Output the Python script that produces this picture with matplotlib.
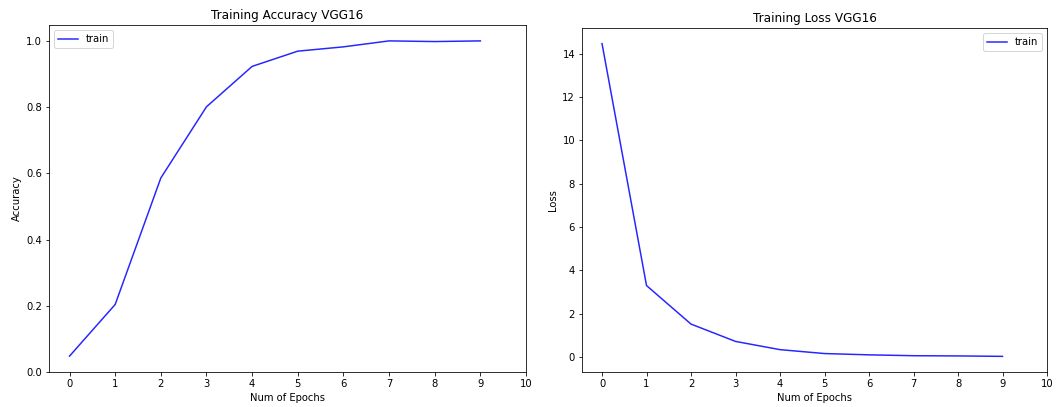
import numpy as np
import matplotlib
matplotlib.use('Agg')
import matplotlib.pyplot as plt

# Data
epochs = np.arange(10)
train_acc = [0.048, 0.204, 0.586, 0.801, 0.923, 0.969, 0.982, 1.0, 0.998, 1.0]
train_loss = [14.47, 3.30, 1.52, 0.72, 0.34, 0.16, 0.10, 0.06, 0.05, 0.03]

fig = plt.figure(figsize=(1057 / 72, 407 / 72), dpi=72)

# Accuracy
ax1 = fig.add_axes([49 / 1057, 1 - 372 / 407, (526 - 49) / 1057, (372 - 25) / 407])
ax1.plot(epochs, train_acc, color='blue', alpha=0.85, label='train')
ax1.set_title('Training Accuracy VGG16')
ax1.set_xlabel('Num of Epochs')
ax1.set_ylabel('Accuracy')
ax1.set_xticks(range(11))
ax1.set_xlim(-0.45, 10)
ax1.set_ylim(0, 1.048)
ax1.legend(loc='upper left')

# Loss
ax2 = fig.add_axes([582 / 1057, 1 - 372 / 407, (1047 - 582) / 1057, (372 - 28) / 407])
ax2.plot(epochs, train_loss, color='blue', alpha=0.85, label='train')
ax2.set_title('Training Loss VGG16')
ax2.set_xlabel('Num of Epochs')
ax2.set_ylabel('Loss')
ax2.set_xticks(range(11))
ax2.set_xlim(-0.45, 10)
ax2.legend(loc='upper right')

fig.savefig('out.png', dpi=72)
